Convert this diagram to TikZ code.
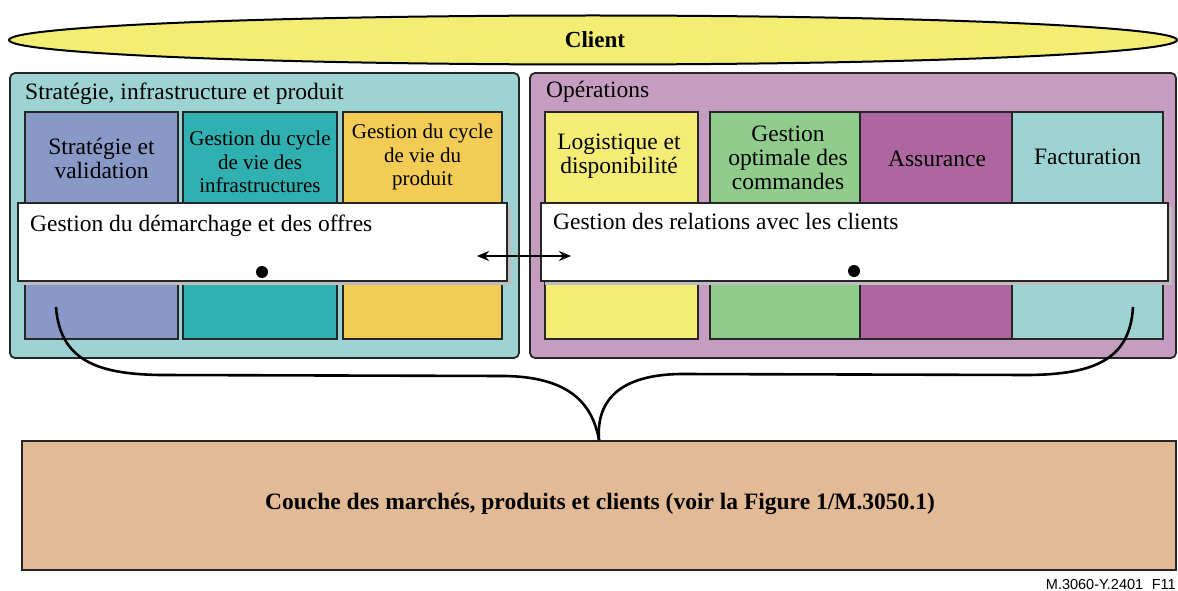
\documentclass[tikz,border=0pt]{standalone}
\usepackage{fontspec}
\setmainfont{Liberation Serif}
\newfontfamily\labelfont{Liberation Sans}
\usetikzlibrary{shapes.geometric,arrows.meta}
\definecolor{cliyel}{RGB}{243,237,116}
\definecolor{leftbg}{RGB}{158,211,211}
\definecolor{bluebox}{RGB}{136,153,200}
\definecolor{tealbox}{RGB}{48,176,176}
\definecolor{orabox}{RGB}{242,204,85}
\definecolor{rightbg}{RGB}{197,157,192}
\definecolor{yelbox}{RGB}{244,236,116}
\definecolor{grnbox}{RGB}{144,204,140}
\definecolor{purbox}{RGB}{174,102,160}
\definecolor{ltealbox}{RGB}{158,211,211}
\definecolor{botbox}{RGB}{226,186,150}
\definecolor{shadowgray}{RGB}{190,190,190}
\tikzset{
  bigbox/.style={draw=black!85, line width=1.8pt, rounded corners=5pt},
  inbox/.style={draw=black!85, line width=1.8pt},
  band/.style={draw=black!85, line width=1.6pt, fill=white},
  boxtxt/.style={font=\fontsize{23.5}{24}\selectfont, align=center, inner sep=0pt},
  smalltxt/.style={font=\fontsize{21}{23.5}\selectfont},
  ttl/.style={font=\fontsize{23.5}{24}\selectfont, anchor=base west, inner sep=0pt},
  dotst/.style={circle, fill=black, minimum size=12pt, inner sep=0pt},
  conn/.style={line width=2.6pt, black},
}
\begin{document}
\begin{tikzpicture}[x=1pt,y=-1pt]
\useasboundingbox (0,0) rectangle (1178,591);
% Client ellipse
\node[ellipse, draw=black, line width=2pt, fill=cliyel, minimum width=1168pt, minimum height=49pt, inner sep=0pt] (client) at (593,40) {};
\node[font=\fontsize{23}{24}\selectfont\bfseries] (clienttxt) at (595,40) {Client};
% Left big box
\draw[bigbox, fill=leftbg] (10,73) rectangle (519,358);
\node[ttl] (lefttitle) at (25,100) {Stratégie, infrastructure et produit};
\draw[inbox, fill=bluebox] (25,112) rectangle (178,339);
\draw[inbox, fill=tealbox] (183,112) rectangle (337,339);
\draw[inbox, fill=orabox] (343,112) rectangle (502,339);
\node[boxtxt] (l1) at (101.5,158) {Stratégie et\\validation};
\node[boxtxt, smalltxt] (l2) at (260,162) {Gestion du cycle\\de vie des\\infrastructures};
\node[boxtxt, smalltxt] (l3) at (422.5,157) {Gestion du cycle\\de vie du\\produit};
% Right big box
\draw[bigbox, fill=rightbg] (530,73) rectangle (1176,358);
\node[ttl] (righttitle) at (546,98) {Opérations};
\draw[inbox, fill=yelbox] (545,112) rectangle (698,339);
\draw[inbox, fill=grnbox] (710,112) rectangle (860,339);
\draw[inbox, fill=purbox] (860,112) rectangle (1012,339);
\draw[inbox, fill=ltealbox] (1012,112) rectangle (1163,339);
\node[boxtxt] (r1) at (619,156) {Logistique et\\disponibilité};
\node[boxtxt] (r2) at (788,158) {Gestion\\optimale des\\commandes};
\node[boxtxt] (r3) at (937,159) {Assurance};
\node[boxtxt] (r4) at (1087.5,157) {Facturation};
% Bands with shadows
\fill[shadowgray] (22,207) rectangle (511,285);
\draw[band] (18,203) rectangle (507,281);
\node[ttl] (lbandtxt) at (30,231) {Gestion du démarchage et des offres};
\fill[shadowgray] (545,207) rectangle (1172,285);
\draw[band] (541,203) rectangle (1168,281);
\node[ttl] (rbandtxt) at (553,229) {Gestion des relations avec les clients};
\node[dotst] (ldot) at (262,272) {};
\node[dotst] (rdot) at (854,271) {};
% double arrow
\coordinate (arrL) at (477,256);
\coordinate (arrR) at (571,256);
\draw[line width=2pt, {Stealth[length=12pt,width=10pt]}-{Stealth[length=12pt,width=10pt]}] (arrL) -- (arrR);
% Bottom box
\node[draw=black!85, line width=1.8pt, fill=botbox, minimum width=1154pt, minimum height=129pt, inner sep=0pt] (bottom) at (599,505.5) {};
\node[font=\fontsize{23.5}{24}\selectfont\bfseries] (bottomtxt) at (600,504) {Couche des marchés, produits et clients (voir la Figure 1/M.3050.1)};
% Brace
\coordinate (bl) at (56,307);
\coordinate (br) at (1133,307);
\draw[conn] (bl) .. controls (60,362) and (100,374) .. (160,375)
  -- (505,376) .. controls (565,377) and (592,400) .. (bottom.north);
\draw[conn] (br) .. controls (1130,362) and (1090,374) .. (1030,375)
  -- (680,374) .. controls (620,375) and (596,400) .. (bottom.north);
% footer
\node[font=\labelfont\fontsize{14.5}{16}\selectfont, anchor=base east, inner sep=0pt] (fig) at (1176,589) {M.3060-Y.2401\hspace{0.6em}F11};
\end{tikzpicture}
\end{document}
